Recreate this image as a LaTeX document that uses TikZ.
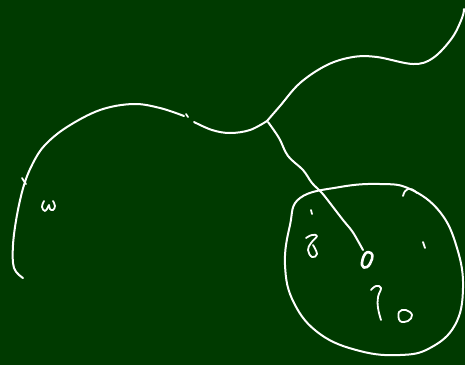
\documentclass[tikz,border=0pt]{standalone}
\definecolor{board}{RGB}{0,58,0}
\tikzset{chalk/.style={draw=white,line width=2pt,line cap=round,line join=round},
  scrib/.style={chalk,line width=1.8pt}}
\begin{document}
\begin{tikzpicture}[x=1pt,y=-1pt]
\fill[board] (0,0) rectangle (465,365);
\useasboundingbox (0,0) rectangle (465,365);
% main long curve (left part)
\draw[chalk] plot[smooth,tension=0.6] coordinates {(23,278) (14,268) (13,245) (17,215) (24,185) (33,163) (45,145) (67,127) (100,110) (133,104) (160,108) (184,116)};
\draw[scrib] (186,114) -- (188,117);
\coordinate (junc) at (267,121);
\draw[chalk] plot[smooth,tension=0.6] coordinates {(194,122) (212,130) (230,133) (250,130) (267,121)};
% right upward part
\draw[chalk] plot[smooth,tension=0.6] coordinates {(267,121) (280,106) (300,83) (327,65) (353,57) (377,57) (413,64) (433,58) (452,38) (462,18) (464,9)};
% branch down into circle
\draw[chalk] plot[smooth,tension=0.6] coordinates {(268,122) (279,138) (288,156) (303,170) (312,183) (322,193) (333,207) (343,220) (352,231) (358,241) (363,250)};
\draw[chalk,line width=2.6pt] plot[smooth cycle,tension=0.8] coordinates {(365,254) (371,253) (372,259) (367,267) (362,265)};
% tick on the left curve
\draw[scrib] (22,178) -- (26,184);
% omega-like squiggle
\draw[scrib] plot[smooth,tension=0.7] coordinates {(44,201) (42,207) (45,211) (48,207) (49,205) (50,209) (53,210) (55,206) (53,201)};
% the big round loop
\draw[chalk] plot[smooth cycle,tension=0.7] coordinates {(300,198) (340,187) (380,184) (410,189) (440,212) (457,248) (463,288) (455,325) (430,348) (400,355) (360,351) (320,334) (294,303) (285,265) (290,225)};
% marks inside
\draw[scrib] (403,196) .. controls (405,188) and (410,186) .. (417,193);
\draw[scrib] (423,242) -- (425,248);
\draw[scrib] (311,210) -- (312,214);
\draw[scrib] plot[smooth,tension=0.7] coordinates {(306,238) (312,235) (317,236) (311,243) (308,250) (312,257) (317,254) (313,245)};
\draw[scrib] plot[smooth,tension=0.7] coordinates {(371,290) (376,286) (381,288) (378,297) (378,308) (381,320)};
\draw[scrib] plot[smooth cycle,tension=0.7] coordinates {(399,312) (406,310) (412,315) (408,321) (400,321)};
\end{tikzpicture}
\end{document}
